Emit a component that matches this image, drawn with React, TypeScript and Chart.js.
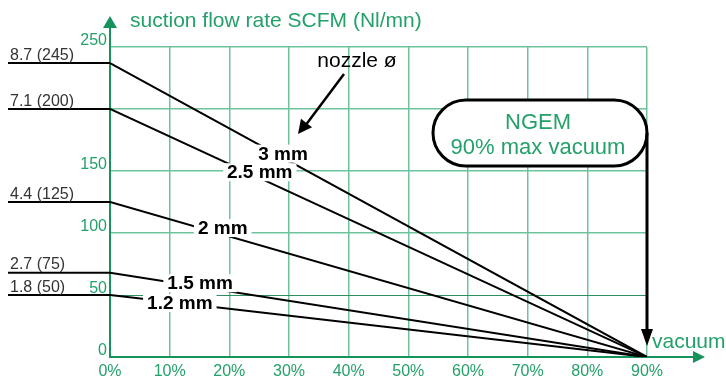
import React, { useEffect, useRef } from 'react';
import { Chart, registerables } from 'chart.js';

Chart.register(...registerables);

// ---- data ----
const vacuumMin = 0;
const vacuumMax = 90; // % (max vacuum of NGEM)
const flowMin = 0;
const flowMax = 250;
const hiddenFlowTicks = [200];
const nozzleSizes = ['3 mm', '2.5 mm', '2 mm', '1.5 mm', '1.2 mm'];
const flowAtZeroVacuum = [237, 200, 125, 68, 50];
const flowAtMaxVacuum = [0, 0, 0, 0, 0];
const flowLabels = ['8.7 (245)', '7.1 (200)', '4.4 (125)', '2.7 (75)', '1.8 (50)'];
const nozzleLabelVacuum = [29, 25.1, 18.9, 15.1, 11.7];
const nozzleLabelFlow = [164, 149, 104, 59.5, 43.5];

const FONT = '"Liberation Sans", Arial, Helvetica, sans-serif';
const AXIS_GREEN = '#16935d';
const GRID_GREEN = '#6ec39c';
const TEXT_GREEN = '#24a06a';

function arrowHead(ctx: CanvasRenderingContext2D, tipX: number, tipY: number, fromX: number, fromY: number, len: number, half: number) {
  const ang = Math.atan2(tipY - fromY, tipX - fromX);
  const bx = tipX - len * Math.cos(ang);
  const by = tipY - len * Math.sin(ang);
  ctx.beginPath();
  ctx.moveTo(tipX, tipY);
  ctx.lineTo(bx + half * Math.sin(ang), by - half * Math.cos(ang));
  ctx.lineTo(bx - half * Math.sin(ang), by + half * Math.cos(ang));
  ctx.closePath();
  ctx.fill();
}

const overlay = {
  id: 'overlay',
  afterDatasetsDraw(chart: any) {
    const { ctx, scales } = chart;
    const x = scales.x;
    const y = scales.y;
    ctx.save();
    ctx.font = `bold 19px ${FONT}`;
    ctx.textAlign = 'center';
    ctx.textBaseline = 'middle';
    const boxes = nozzleSizes.map((t, i) => {
      const px = x.getPixelForValue(nozzleLabelVacuum[i]);
      const py = y.getPixelForValue(nozzleLabelFlow[i]);
      const w = ctx.measureText(t).width + 8;
      return { t, px, py, w };
    });
    ctx.fillStyle = '#ffffff';
    boxes.forEach((b) => ctx.fillRect(b.px - b.w / 2, b.py - 9, b.w, 18));
    ctx.fillStyle = '#000000';
    boxes.forEach((b) => ctx.fillText(b.t, b.px, b.py + 1));
    ctx.restore();
  },
  afterDraw(chart: any) {
    const { ctx, chartArea: ca, scales } = chart;
    const x = scales.x;
    const y = scales.y;
    ctx.save();

    // axis arrows
    ctx.strokeStyle = AXIS_GREEN;
    ctx.fillStyle = AXIS_GREEN;
    ctx.lineWidth = 2;
    ctx.beginPath();
    ctx.moveTo(ca.left, ca.top);
    ctx.lineTo(ca.left, 26);
    ctx.stroke();
    arrowHead(ctx, ca.left, 16, ca.left, 40, 12, 7);
    ctx.beginPath();
    ctx.moveTo(ca.right, ca.bottom);
    ctx.lineTo(694, ca.bottom);
    ctx.stroke();
    arrowHead(ctx, 705, ca.bottom, 680, ca.bottom, 12, 6);

    // titles
    ctx.fillStyle = TEXT_GREEN;
    ctx.font = `21px ${FONT}`;
    ctx.textAlign = 'left';
    ctx.textBaseline = 'middle';
    ctx.fillText('suction flow rate SCFM (Nl/mn)', 130, 21);
    ctx.fillText('vacuum', 652, 342);

    // left flow labels
    ctx.strokeStyle = '#000';
    ctx.lineWidth = 2;
    ctx.fillStyle = '#333333';
    ctx.font = `16px ${FONT}`;
    ctx.textBaseline = 'alphabetic';
    flowLabels.forEach((t, i) => {
      const py = y.getPixelForValue(flowAtZeroVacuum[i]);
      ctx.beginPath();
      ctx.moveTo(8, py);
      ctx.lineTo(ca.left, py);
      ctx.stroke();
      ctx.fillText(t, 10, py - 3.5);
    });

    // nozzle note
    ctx.fillStyle = '#000';
    ctx.font = `21px ${FONT}`;
    ctx.textAlign = 'center';
    ctx.textBaseline = 'middle';
    ctx.fillText('nozzle ø', 357, 61);
    ctx.lineWidth = 2.5;
    ctx.beginPath();
    ctx.moveTo(344, 74);
    ctx.lineTo(305, 126);
    ctx.stroke();
    arrowHead(ctx, 298, 134, 344, 74, 14, 7);

    // NGEM box
    const bx = 433, by = 100, bw = 214, bh = 66, r = 33;
    ctx.beginPath();
    ctx.moveTo(bx + r, by);
    ctx.lineTo(bx + bw - r, by);
    ctx.arc(bx + bw - r, by + r, r, -Math.PI / 2, Math.PI / 2);
    ctx.lineTo(bx + r, by + bh);
    ctx.arc(bx + r, by + r, r, Math.PI / 2, (3 * Math.PI) / 2);
    ctx.closePath();
    ctx.fillStyle = '#fff';
    ctx.fill();
    ctx.lineWidth = 3;
    ctx.strokeStyle = '#000';
    ctx.stroke();
    ctx.fillStyle = TEXT_GREEN;
    ctx.font = `22px ${FONT}`;
    ctx.fillText('NGEM', bx + bw / 2 - 2, 123);
    ctx.fillText('90% max vacuum', bx + bw / 2 - 2, 148);

    // down arrow at max vacuum
    const mx = x.getPixelForValue(vacuumMax);
    ctx.strokeStyle = '#000';
    ctx.fillStyle = '#000';
    ctx.lineWidth = 3;
    ctx.beginPath();
    ctx.moveTo(mx, by + r);
    ctx.lineTo(mx, 330);
    ctx.stroke();
    arrowHead(ctx, mx, 346, mx, 300, 17, 6);

    ctx.restore();
  },
};

export default function App() {
  const ref = useRef<HTMLCanvasElement>(null);
  useEffect(() => {
    if (!ref.current) return;
    const datasets = nozzleSizes.map((name, i) => ({
      label: name,
      data: [
        { x: vacuumMin, y: flowAtZeroVacuum[i] },
        { x: vacuumMax, y: flowAtMaxVacuum[i] },
      ],
      borderColor: '#000000',
      backgroundColor: '#000000',
      borderWidth: 2,
      pointRadius: 0,
      tension: 0,
    }));
    const chart = new Chart(ref.current, {
      type: 'line',
      data: { datasets },
      plugins: [overlay],
      options: {
        animation: false,
        responsive: false,
        devicePixelRatio: 1,
        layout: { padding: { top: 47, right: 79, left: 0, bottom: 0 } },
        plugins: { legend: { display: false }, tooltip: { enabled: false } },
        scales: {
          x: {
            type: 'linear',
            min: vacuumMin,
            max: vacuumMax,
            afterFit: (s: any) => { s.height = 21; },
            ticks: {
              stepSize: 10,
              padding: 5,
              color: TEXT_GREEN,
              font: { family: FONT, size: 16 },
              callback: (v: any) => `${v}%`,
            },
            grid: { color: GRID_GREEN, lineWidth: 1.5, drawTicks: false },
            border: { display: true, color: AXIS_GREEN, width: 2 },
          },
          y: {
            type: 'linear',
            min: flowMin,
            max: flowMax,
            afterFit: (s: any) => { s.width = 110; },
            ticks: {
              stepSize: 50,
              padding: 3,
              labelOffset: -6,
              color: TEXT_GREEN,
              font: { family: FONT, size: 16 },
              callback: (v: any) => (hiddenFlowTicks.includes(v) ? '' : `${v}`),
            },
            grid: {
              color: (c: any) => (c.tick && c.tick.value === 50 ? '#2d8f60' : GRID_GREEN),
              lineWidth: (c: any) => (c.tick && c.tick.value === 50 ? 1 : 1.5),
              drawTicks: false,
            },
            border: { display: true, color: AXIS_GREEN, width: 2 },
          },
        },
      },
    });
    return () => chart.destroy();
  }, []);
  return (
    <div style={{ position: 'fixed', left: 0, top: 0, width: 726, height: 378, background: '#fff' }}>
      <canvas ref={ref} width={726} height={378} style={{ display: 'block' }} />
    </div>
  );
}
